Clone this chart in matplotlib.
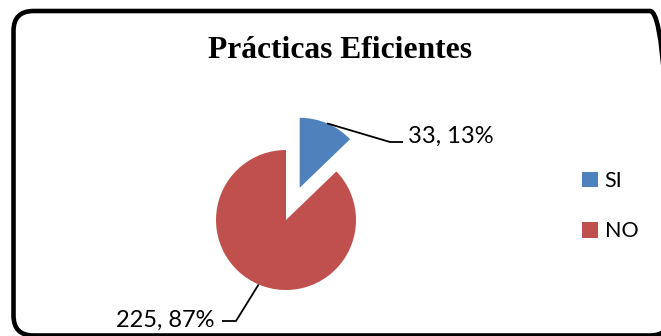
import numpy as np
import matplotlib
matplotlib.use("Agg")
import matplotlib.pyplot as plt
from matplotlib.patches import FancyBboxPatch
from matplotlib.transforms import IdentityTransform

# Data
categories = ["SI", "NO"]
counts = [33, 225]
percents = [13, 87]
colors = ["#4F81BD", "#C0504D"]
title = "Prácticas Eficientes"

W, H = 661, 336
fig = plt.figure(figsize=(W / 100, H / 100), dpi=100)
ax = fig.add_axes([0, 0, 1, 1])

label_font = ["Lato", "DejaVu Sans"]

# Pie in pixel units (1 data unit = 1 px, y measured from the bottom)
cx, cy, r = 286, H - 220, 70
wedges, _ = ax.pie(counts, colors=colors, startangle=90, counterclock=False,
                   radius=r, center=(cx, cy), explode=[35, 0],
                   wedgeprops=dict(linewidth=0))
ax.set_xlim(0, W)
ax.set_ylim(0, H)
ax.set_aspect("equal")
ax.axis("off")


def rim_point(w):
    mid = np.deg2rad(0.5 * (w.theta1 + w.theta2))
    x0, y0 = w.center
    return x0 + w.r * np.cos(mid), y0 + w.r * np.sin(mid)


# Data labels with elbow leader lines
lbl = [f"{c}, {p}%" for c, p in zip(counts, percents)]

# SI label (right side)
sx, sy = rim_point(wedges[0])
tx, tb = 408, H - 143
ax.plot([sx, tx - 18, tx - 5], [sy, tb + 1, tb + 1], color="black", lw=1.3,
        solid_capstyle="butt")
ax.text(tx, tb, lbl[0], fontsize=17, family=label_font, ha="left",
        va="baseline", color="black")

# NO label (lower left)
nx, ny = rim_point(wedges[1])
rx, rb = 214, H - 327
ax.plot([nx, rx + 22, rx + 8], [ny, rb + 6, rb + 6], color="black", lw=1.3,
        solid_capstyle="butt")
ax.text(rx, rb, lbl[1], fontsize=17, family=label_font, ha="right",
        va="baseline", color="black")

# Title
ax.text(340.5, H - 58, title, fontsize=22.7, family=["Liberation Serif", "DejaVu Serif"],
        fontweight="bold", ha="center", va="baseline", color="black")

# Legend
leg = ax.legend(wedges, categories, loc="upper left",
                bbox_to_anchor=(582 / W, 1 - 171 / H), frameon=False,
                prop=dict(family=label_font, size=15.5),
                handlelength=0.75, handleheight=0.75, handletextpad=0.3,
                labelspacing=1.4, borderaxespad=0, borderpad=0)

# Rounded chart border, in output pixels
border = FancyBboxPatch((13.5, 0.5), 670 - 13.5, (H - 11) - 0.5,
                        boxstyle="round,pad=0,rounding_size=20",
                        facecolor="none", edgecolor="black", linewidth=3.3,
                        transform=IdentityTransform(), clip_on=False)
fig.add_artist(border)

fig.savefig("out.png", dpi=100)
